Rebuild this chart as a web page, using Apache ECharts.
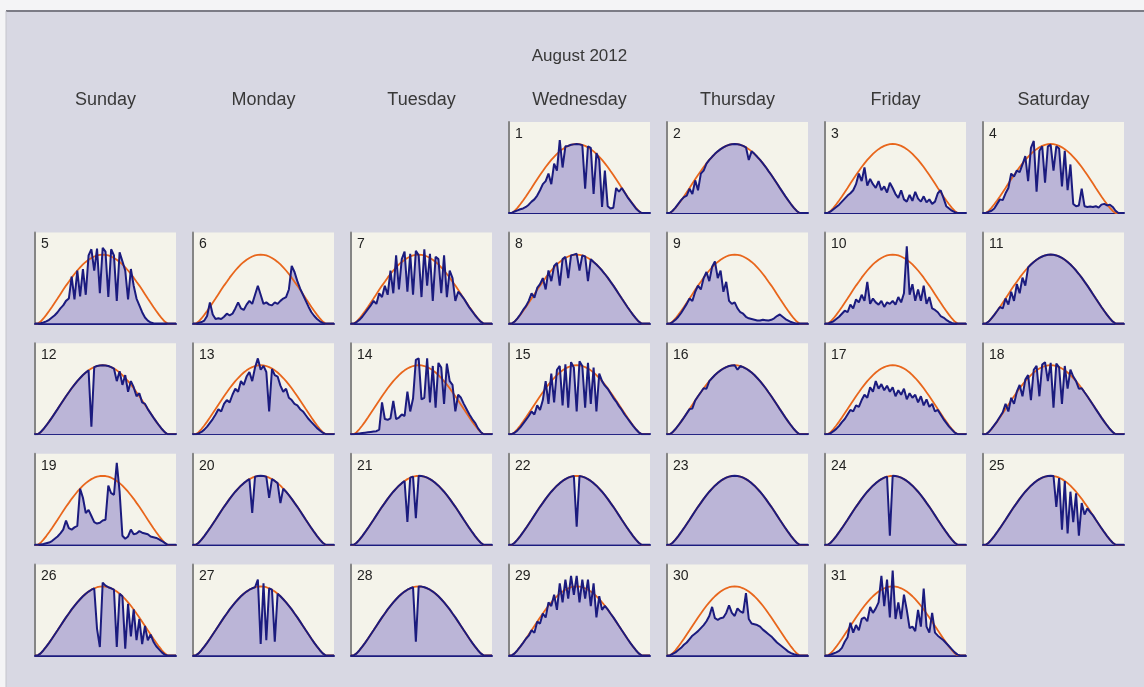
<!DOCTYPE html>
<html>
<head>
<meta charset="utf-8">
<script src="https://cdn.jsdelivr.net/npm/echarts@6/dist/echarts.min.js"></script>
<style>
html,body{margin:0;padding:0;background:#f4f4f6}
#chart{width:1144px;height:687px}
</style>
</head>
<body>
<div id="chart"></div>
<script>
// Solar irradiance calendar, August 2012 (W/m², sampled every 20 minutes)
const monthTitle = 'August 2012';
const weekdays = ['Sunday','Monday','Tuesday','Wednesday','Thursday','Friday','Saturday'];
const firstWeekday = 3; // 1 August 2012 fell on a Wednesday

const times = ['04:20','04:40','05:00','05:20','05:40','06:00','06:20','06:40','07:00','07:20',
  '07:40','08:00','08:20','08:40','09:00','09:20','09:40','10:00','10:20','10:40',
  '11:00','11:20','11:40','12:00','12:20','12:40','13:00','13:20','13:40','14:00',
  '14:20','14:40','15:00','15:20','15:40','16:00','16:20','16:40','17:00','17:20',
  '17:40','18:00','18:20','18:40','19:00','19:20','19:40','20:00','20:20','20:40','21:00'];

// modelled clear-sky irradiance
const clearSky = [0,0,27,68,115,166,219,275,331,388, 445,501,553,606,654,700,741,780,813,842,
  866,885,899,907,910,907,899,885,866,842, 813,780,741,700,654,606,553,501,445,388,
  331,275,219,166,115,68,27,0,0,0, 0];

// measured irradiance, one array per day
const d01 = [0,0,20,35,50,60,80,110,150,180, 230,300,380,420,520,380,650,560,960,600,
  880,885,900,905,910,905,895,320,880,860, 250,790,700,80,560,90,60,70,330,280,
  330,270,210,160,110,60,25,0,0,0, 0];
const d02 = [0,0,30,70,120,170,210,230,320,250, 430,300,520,560,650,700,741,780,813,842,
  866,885,899,907,910,907,899,885,866,700, 813,780,741,700,654,606,553,501,445,388,
  331,275,219,166,115,68,27,0,0,0, 0];
const d03 = [0,0,20,50,80,110,150,190,230,260, 300,380,520,420,600,360,450,380,330,420,
  300,350,270,400,330,250,200,300,180,150, 240,160,280,190,150,220,140,180,120,150,
  260,300,200,90,60,30,10,0,0,0, 0];
const d04 = [0,0,15,30,60,120,180,170,260,330, 520,480,560,540,640,750,420,860,950,280,
  820,880,400,880,900,560,880,850,350,820, 300,640,120,90,100,320,90,80,85,80,
  90,70,110,120,100,110,80,30,0,0, 0];
const d05 = [0,0,5,15,30,50,80,110,150,200, 240,300,330,620,320,700,360,720,380,900,
  980,700,990,400,1000,950,350,980,900,300, 940,820,700,320,720,500,330,240,150,80,
  40,15,5,0,0,0,0,0,0,0, 0];
const d06 = [0,0,10,20,40,100,280,120,60,70, 60,90,130,110,130,200,280,200,180,250,
  300,260,380,500,380,260,280,250,240,280, 260,300,330,350,450,760,680,560,460,380,
  300,220,150,100,60,30,10,0,0,0, 0];
const d07 = [0,0,20,50,90,140,190,240,300,260, 400,350,500,380,700,400,900,450,850,950,
  420,920,380,960,900,350,980,500,920,300, 880,850,400,900,350,700,600,300,420,380,
  330,270,210,160,110,65,25,0,0,0, 0];
const d08 = [0,0,27,70,120,180,230,300,400,340, 470,520,600,450,700,560,760,800,500,850,
  880,600,900,910,920,700,900,885,560,850, 813,780,741,700,654,606,553,501,445,388,
  331,275,219,166,115,68,27,0,0,0, 0];
const d09 = [0,0,20,50,90,140,200,260,330,300, 420,500,450,600,680,560,750,820,600,700,
  420,550,300,260,280,200,150,130,90,70, 60,50,40,40,50,45,40,50,70,100,
  120,90,60,40,20,10,0,0,0,0, 0];
const d10 = [0,0,15,30,60,90,130,170,150,250, 200,320,280,380,300,550,260,330,280,250,
  300,220,280,260,300,250,350,280,400,1020, 380,520,300,450,300,500,260,350,200,180,
  150,100,80,50,25,10,0,0,0,0, 0];
const d11 = [0,0,27,68,115,166,219,200,331,250, 420,300,520,400,606,500,741,780,813,842,
  866,885,899,907,910,907,899,885,866,842, 813,780,741,700,654,606,553,501,445,388,
  331,275,219,166,115,68,27,0,0,0, 0];
const d12 = [0,0,27,68,115,166,219,275,331,388, 445,501,553,606,654,700,741,780,813,842,
  100,885,899,907,910,907,899,885,866,700, 830,650,780,560,700,620,500,540,420,400,
  331,275,219,166,115,68,27,0,0,0, 0];
const d13 = [0,0,10,30,60,100,150,200,260,330, 300,400,450,420,520,600,560,700,650,760,
  820,700,880,1000,850,900,820,300,860,780, 760,640,560,600,480,450,400,380,330,300,
  250,200,160,120,80,50,20,0,0,0, 0];
const d14 = [0,0,5,10,15,20,25,30,35,40, 60,420,200,190,210,440,200,220,260,240,
  560,300,470,980,1000,460,480,1000,420,900, 350,940,880,400,930,700,650,300,520,480,
  400,330,260,200,150,80,30,0,0,0, 0];
const d15 = [0,0,20,50,90,140,190,240,300,260, 380,320,450,700,400,800,420,850,900,380,
  920,350,950,880,300,960,900,350,940,400, 880,300,800,700,640,600,540,480,430,370,
  320,260,210,160,110,65,25,0,0,0, 0];
const d16 = [0,0,27,68,115,166,219,275,331,340, 445,501,553,606,600,700,741,780,813,842,
  866,885,899,907,910,850,899,885,866,842, 813,780,741,700,654,606,553,501,445,388,
  331,275,219,166,115,68,27,0,0,0, 0];
const d17 = [0,0,15,40,70,110,160,200,260,320, 300,380,360,450,520,480,620,560,700,600,
  660,580,640,560,620,500,580,520,600,460, 540,480,520,420,500,380,460,360,400,300,
  320,260,200,150,100,60,20,0,0,0, 0];
const d18 = [0,0,27,70,120,170,230,290,400,300, 480,400,560,650,500,720,780,450,850,900,
  500,920,950,700,940,350,930,880,400,900, 600,850,760,700,600,606,553,501,445,388,
  331,275,219,166,115,68,27,0,0,0, 0];
const d19 = [0,0,5,10,20,30,50,80,110,150, 200,320,220,200,230,250,740,620,420,460,
  380,300,280,290,320,330,780,680,660,1080, 700,120,80,110,200,140,150,180,160,150,
  140,110,100,90,70,50,25,0,0,0, 0];
const d20 = [0,0,27,68,115,166,219,275,331,388, 445,501,553,606,654,700,741,780,813,842,
  866,420,899,907,910,907,899,620,866,842, 813,550,741,700,654,606,553,501,445,388,
  331,275,219,166,115,68,27,0,0,0, 0];
const d21 = [0,0,27,68,115,166,219,275,331,388, 445,501,553,606,654,700,741,780,813,842,
  300,885,899,350,910,907,899,885,866,842, 813,780,741,700,654,606,553,501,445,388,
  331,275,219,166,115,68,27,0,0,0, 0];
const d22 = [0,0,27,68,115,166,219,275,331,388, 445,501,553,606,654,700,741,780,813,842,
  866,885,899,907,240,907,899,885,866,842, 813,780,741,700,654,606,553,501,445,388,
  331,275,219,166,115,68,27,0,0,0, 0];
const d23 = [0,0,27,68,115,166,219,275,331,388, 445,501,553,606,654,700,741,780,813,842,
  866,885,899,907,910,907,899,885,866,842, 813,780,741,700,654,606,553,501,445,388,
  331,275,219,166,115,68,27,0,0,0, 0];
const d24 = [0,0,27,68,115,166,219,275,331,388, 445,501,553,606,654,700,741,780,813,842,
  866,885,899,120,910,907,899,885,866,842, 813,780,741,700,654,606,553,501,445,388,
  331,275,219,166,115,68,27,0,0,0, 0];
const d25 = [0,0,27,68,115,166,219,275,331,388, 445,501,553,606,654,700,741,780,813,842,
  866,885,899,907,910,907,500,880,200,840, 150,700,300,680,120,550,400,480,430,388,
  331,275,219,166,115,68,27,0,0,0, 0];
const d26 = [0,0,27,68,115,166,219,275,331,388, 445,501,553,606,654,700,741,780,813,842,
  866,885,350,110,960,920,899,885,866,110, 813,780,90,680,250,606,200,480,150,388,
  200,275,180,120,80,40,10,0,0,0, 0];
const d27 = [0,0,27,68,115,166,219,275,331,388, 445,501,553,606,654,700,741,780,813,842,
  866,885,899,1000,150,950,200,885,866,180, 813,780,741,700,654,606,553,501,445,388,
  331,275,219,166,115,68,27,0,0,0, 0];
const d28 = [0,0,27,68,115,166,219,275,331,388, 445,501,553,606,654,700,741,780,813,842,
  866,885,899,180,910,907,899,885,866,842, 813,780,741,700,654,606,553,501,445,388,
  331,275,219,166,115,68,27,0,0,0, 0];
const d29 = [0,0,27,68,115,166,219,260,331,300, 445,420,553,500,700,650,800,600,950,700,
  1000,750,1050,800,1050,700,1000,750,1000,650, 950,500,780,600,654,606,553,501,445,388,
  331,275,219,166,115,68,27,0,0,0, 0];
const d30 = [0,0,20,40,70,100,140,170,215,260, 290,320,360,400,450,520,640,490,470,490,
  500,560,660,560,520,620,580,560,820,480, 420,410,400,380,340,310,280,250,210,170,
  140,110,80,50,30,15,5,0,0,0, 0];
const d31 = [0,0,10,25,40,60,100,180,240,430, 300,400,330,480,500,450,640,560,620,700,
  1050,650,1000,500,1120,480,700,480,800,600, 360,380,320,600,380,880,380,300,560,300,
  260,230,200,160,120,80,40,10,0,0, 0];

const measured = [d01,d02,d03,d04,d05,d06,d07,d08,d09,d10,d11,d12,d13,d14,d15,d16,
  d17,d18,d19,d20,d21,d22,d23,d24,d25,d26,d27,d28,d29,d30,d31];

// ---- layout & styling ----
const FONT = '"Liberation Sans", Arial, sans-serif';
const NAVY = '#1b1b7e';
const FILL = '#bbb5d7';
const ORANGE = '#e8661c';
const PANEL = '#f4f3ea';
const PW = 141, PH = 91;
const colLeft = c => 35 + c * 158;
const rowTop = r => 122 + r * 110.6;

const grids = [], xAxes = [], yAxes = [], series = [];
const graphics = [
  { type: 'rect', shape: { x: 6, y: 10, width: 1138, height: 677 },
    style: { fill: '#d8d8e3' }, z: -10 },
  { type: 'line', shape: { x1: 6, y1: 11, x2: 1144, y2: 11 },
    style: { stroke: '#7c7c86', lineWidth: 2 }, z: -9 },
  { type: 'line', shape: { x1: 6, y1: 11, x2: 6, y2: 687 },
    style: { stroke: '#c4c4cc', lineWidth: 1 }, z: -9 },
  { type: 'text', x: colLeft(3) + PW / 2, y: 56,
    style: { text: monthTitle, font: '17px ' + FONT, fill: '#383838', align: 'center', verticalAlign: 'middle' } }
];

weekdays.forEach((name, c) => {
  graphics.push({ type: 'text', x: colLeft(c) + PW / 2, y: 100,
    style: { text: name, font: '18px ' + FONT, fill: '#383838', align: 'center', verticalAlign: 'middle' } });
});

measured.forEach((vals, i) => {
  const slot = i + firstWeekday;
  const r = Math.floor(slot / 7), c = slot % 7;
  const left = colLeft(c), top = rowTop(r);
  grids.push({ left: left, top: top, width: PW, height: PH,
    show: true, backgroundColor: PANEL, borderWidth: 0, containLabel: false });
  xAxes.push({ type: 'category', gridIndex: i, data: times, boundaryGap: false,
    axisLine: { show: true, onZero: false, lineStyle: { color: NAVY, width: 2 } },
    axisTick: { show: false }, axisLabel: { show: false }, splitLine: { show: false } });
  yAxes.push({ type: 'value', gridIndex: i, min: 0, max: 1200,
    axisLine: { show: true, lineStyle: { color: '#858585', width: 2 } },
    axisTick: { show: false }, axisLabel: { show: false }, splitLine: { show: false } });
  series.push({ type: 'line', xAxisIndex: i, yAxisIndex: i, data: vals, symbol: 'none',
    lineStyle: { width: 0 }, areaStyle: { color: FILL, opacity: 1 }, z: 1, silent: true });
  series.push({ type: 'line', xAxisIndex: i, yAxisIndex: i, data: clearSky, symbol: 'none',
    lineStyle: { color: ORANGE, width: 1.8 }, z: 2, silent: true });
  series.push({ type: 'line', xAxisIndex: i, yAxisIndex: i, data: vals, symbol: 'none',
    lineStyle: { color: NAVY, width: 2 }, z: 3, silent: true });
  graphics.push({ type: 'text', x: left + 6, y: top + 5, z: 10,
    style: { text: String(i + 1), font: '14px ' + FONT, fill: '#222', align: 'left', verticalAlign: 'top' } });
});

const chart = echarts.init(document.getElementById('chart'));
chart.setOption({
  backgroundColor: '#f4f4f6',
  animation: false,
  grid: grids,
  xAxis: xAxes,
  yAxis: yAxes,
  series: series,
  graphic: { elements: graphics }
});
</script>
</body>
</html>
